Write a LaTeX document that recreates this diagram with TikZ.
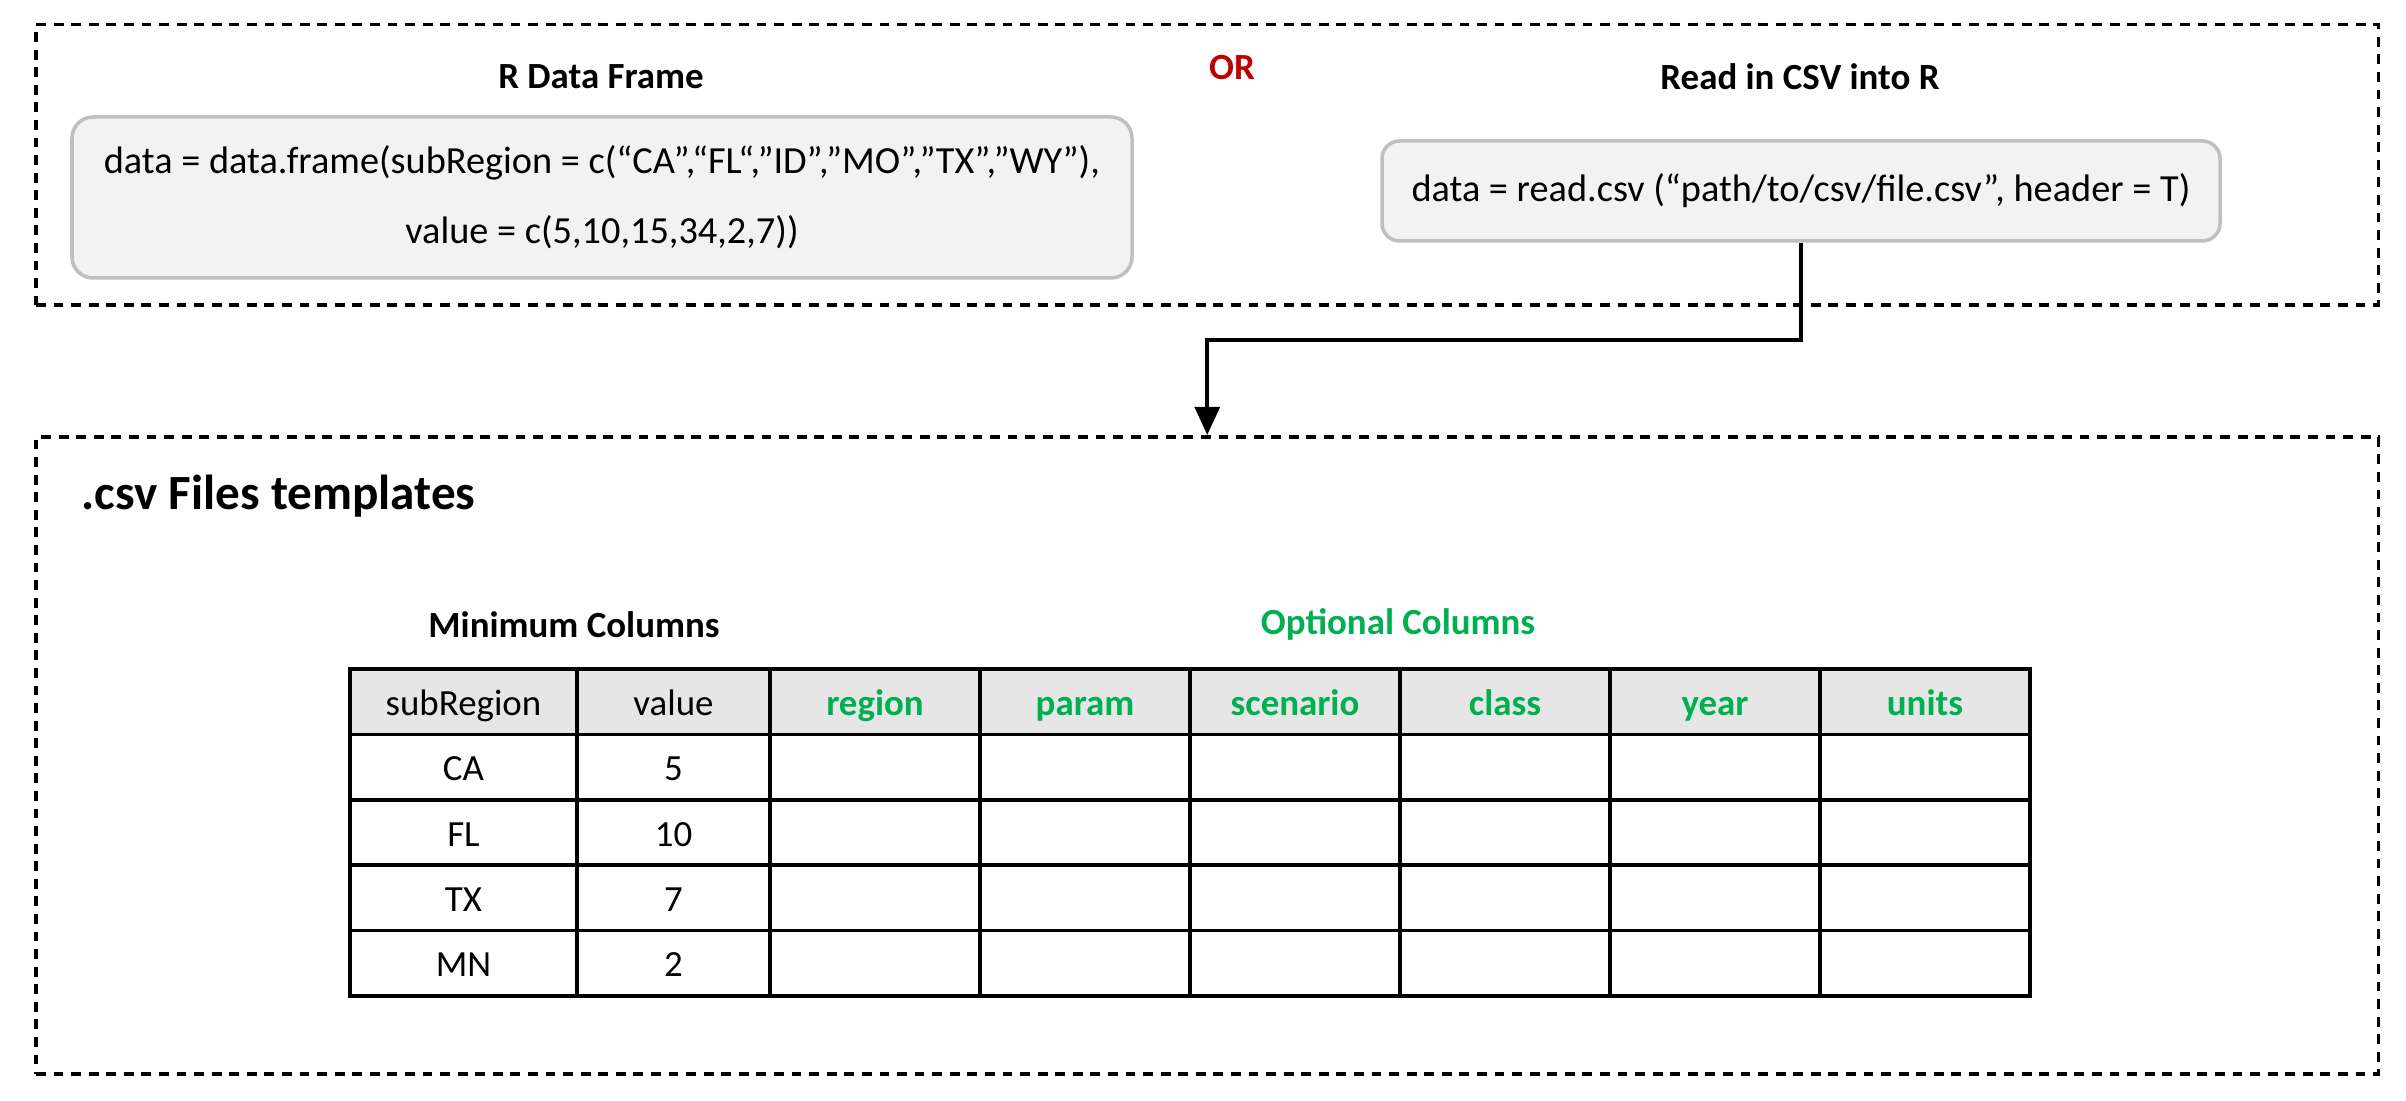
\documentclass[tikz,border=0pt]{standalone}
\usepackage{fontspec}
\setmainfont{Carlito}
\usetikzlibrary{arrows.meta, positioning, calc}
\definecolor{cRed}{HTML}{C00000}
\definecolor{cGreen}{HTML}{00B050}
\definecolor{cHead}{HTML}{E7E6E6}
\definecolor{cBoxFill}{HTML}{F2F2F2}
\definecolor{cBoxLine}{HTML}{BFBFBF}

\begin{document}
\begin{tikzpicture}[
    frame/.style={draw, line width=1.1pt, dash pattern=on 2.8pt off 2.2pt, inner sep=0pt},
    codebox/.style={draw=cBoxLine, line width=1pt, fill=cBoxFill, rounded corners=6pt,
                    align=center, inner sep=0pt, font=\fontsize{10.9}{20}\selectfont},
    title/.style={font=\fontsize{10.5}{12}\selectfont\bfseries},
    cell/.style={font=\fontsize{10.5}{12}\selectfont, text height=10pt, text depth=2.2pt},
    optcell/.style={cell, font=\fontsize{10.5}{12}\selectfont\bfseries, text=cGreen},
    tabline/.style={line width=1pt},
    flow/.style={line width=1.2pt, -{Triangle[length=8pt,width=7pt]}},
  ]
  \useasboundingbox (0,0) rectangle (24.06,-11.01);

  % input options
  \node[frame, minimum width=23.425cm, minimum height=2.805cm] (inframe) at (12.0725,-1.6475) {};
  \node[title] (dftitle) at (6.01,-0.77) {R Data Frame};
  \node[title, text=cRed] (ortxt) at (12.32,-0.675) {OR};
  \node[title] (csvtitle) at (18.0,-0.77) {Read in CSV into R};
  \node[codebox, minimum width=10.6cm, minimum height=1.61cm] (dfbox) at (6.02,-1.975)
    {data = data.frame(subRegion = c(“CA",“FL“,”ID”,”MO”,”TX”,”WY”),\\value = c(5,10,15,34,2,7))};
  \node[codebox, rounded corners=5pt, minimum width=8.38cm, minimum height=1.0cm] (csvbox) at (18.01,-1.91)
    {data = read.csv (“path/to/csv/file.csv”, header = T)};

  % templates
  \node[frame, minimum width=23.425cm, minimum height=6.37cm] (tplframe) at (12.0725,-7.555) {};
  \draw[flow] (csvbox.south) -- ++(0,-0.97) -| (tplframe.north);
  \node[anchor=west, inner sep=0pt, font=\fontsize{14}{16}\selectfont\bfseries] (tpltitle) at (0.81,-4.96) {.csv Files templates};
  \node[title] (mintitle) at (5.74,-6.245) {Minimum Columns};
  \node[title, text=cGreen] (opttitle) at (13.98,-6.245) {Optional Columns};

  % table
  \fill[cHead] (3.50,-6.69) rectangle (20.30,-7.344);
  \draw[tabline] (3.50,-6.69) rectangle (20.30,-9.96);
  \draw[tabline] (3.50,-7.344) -- (20.30,-7.344);
  \draw[tabline] (3.50,-7.998) -- (20.30,-7.998);
  \draw[tabline] (3.50,-8.652) -- (20.30,-8.652);
  \draw[tabline] (3.50,-9.306) -- (20.30,-9.306);
  \draw[tabline] (5.77,-6.69) -- (5.77,-9.96);
  \draw[tabline] (7.70,-6.69) -- (7.70,-9.96);
  \draw[tabline] (9.80,-6.69) -- (9.80,-9.96);
  \draw[tabline] (11.90,-6.69) -- (11.90,-9.96);
  \draw[tabline] (14.00,-6.69) -- (14.00,-9.96);
  \draw[tabline] (16.10,-6.69) -- (16.10,-9.96);
  \draw[tabline] (18.20,-6.69) -- (18.20,-9.96);

  \node[cell] (hSub) at (4.635,-7.017) {subRegion};
  \node[cell] (hVal) at (6.735,-7.017) {value};
  \node[optcell] (hRegion) at (8.75,-7.017) {region};
  \node[optcell] (hParam) at (10.85,-7.017) {param};
  \node[optcell] (hScenario) at (12.95,-7.017) {scenario};
  \node[optcell] (hClass) at (15.05,-7.017) {class};
  \node[optcell] (hYear) at (17.15,-7.017) {year};
  \node[optcell] (hUnits) at (19.25,-7.017) {units};

  \node[cell] (sCA) at (4.635,-7.671) {CA};
  \node[cell] (vCA) at (6.735,-7.671) {5};
  \node[cell] (sFL) at (4.635,-8.325) {FL};
  \node[cell] (vFL) at (6.735,-8.325) {10};
  \node[cell] (sTX) at (4.635,-8.979) {TX};
  \node[cell] (vTX) at (6.735,-8.979) {7};
  \node[cell] (sMN) at (4.635,-9.633) {MN};
  \node[cell] (vMN) at (6.735,-9.633) {2};
\end{tikzpicture}
\end{document}
